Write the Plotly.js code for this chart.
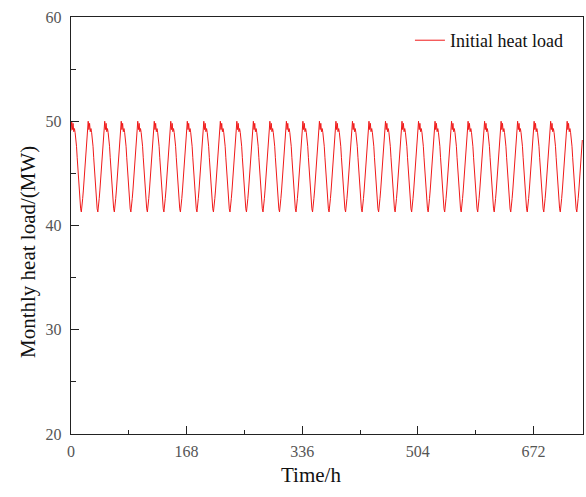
<!DOCTYPE html>
<html>
<head>
<meta charset="utf-8">
<script src="https://cdn.plot.ly/plotly-3.0.1.min.js"></script>
<style>html,body{margin:0;padding:0;background:#fff;}#chart{width:586px;height:497px;}</style>
</head>
<body>
<div id="chart"></div>
<script>
// Daily heat-load profile (MW), hour 0..23
const dailyProfile = [49.1, 50.0, 49.2, 49.8, 49.0, 49.3, 48.9, 48.4, 47.6, 46.5, 45.3, 44.2,
                      43.3, 42.6, 41.6, 41.3, 41.8, 42.6, 43.4, 44.3, 45.2, 46.2, 47.2, 48.2];
const numDays = 31;
const seriesName = "Initial heat load";
const xTickVals = [0, 168, 336, 504, 672];
const yTickVals = [20, 30, 40, 50, 60];

const hours = [];
const load = [];
for (let d = 0; d < numDays; d++) {
  for (let h = 0; h < dailyProfile.length; h++) {
    hours.push(d * 24 + h);
    load.push(dailyProfile[h]);
  }
}

const serif = "Liberation Serif, Times New Roman, serif";
const trace = {
  x: hours, y: load, type: "scatter", mode: "lines", name: seriesName,
  line: {color: "rgb(240,25,25)", width: 1}
};

const axisCommon = {
  showline: true, linecolor: "#222", linewidth: 1.3, mirror: true,
  showgrid: false, zeroline: false,
  ticks: "inside", ticklen: 8, tickwidth: 1.2, tickcolor: "#222",
  tickfont: {family: serif, size: 16, color: "#555"}
};

const layout = {
  width: 586, height: 497,
  margin: {l: 71, r: 3, t: 17, b: 63},
  paper_bgcolor: "#fff", plot_bgcolor: "#fff",
  showlegend: true,
  legend: {x: 0.662, y: 0.988, xanchor: "left", yanchor: "top",
           font: {family: serif, size: 18, color: "#111"}, bgcolor: "rgba(0,0,0,0)"},
  xaxis: Object.assign({}, axisCommon, {
    range: [0, 744], tickvals: xTickVals, ticktext: xTickVals.map(String),
    ticklabelstandoff: 2,
    minor: {tickvals: [84, 252, 420, 588], ticks: "inside", ticklen: 4, tickcolor: "#222", tickwidth: 1}
  }),
  yaxis: Object.assign({}, axisCommon, {
    range: [20, 60], tickvals: yTickVals, ticktext: yTickVals.map(String),
    ticklabelstandoff: 5,
    minor: {tickvals: [25, 35, 45, 55], ticks: "inside", ticklen: 5, tickcolor: "#222", tickwidth: 1}
  }),
  annotations: [
    {text: "Time/h", xref: "paper", yref: "paper", x: (311 - 71) / 512, y: -(475 - 434) / 417,
     xanchor: "center", yanchor: "middle", showarrow: false, font: {family: serif, size: 21, color: "#111"}},
    {text: "Monthly heat load/(MW)", xref: "paper", yref: "paper", x: -(71 - 28) / 512, y: (434 - 252) / 417,
     xanchor: "center", yanchor: "middle", textangle: -90, showarrow: false, font: {family: serif, size: 21, color: "#111"}}
  ]
};

Plotly.newPlot("chart", [trace], layout, {displayModeBar: false, staticPlot: true});
</script>
</body>
</html>
